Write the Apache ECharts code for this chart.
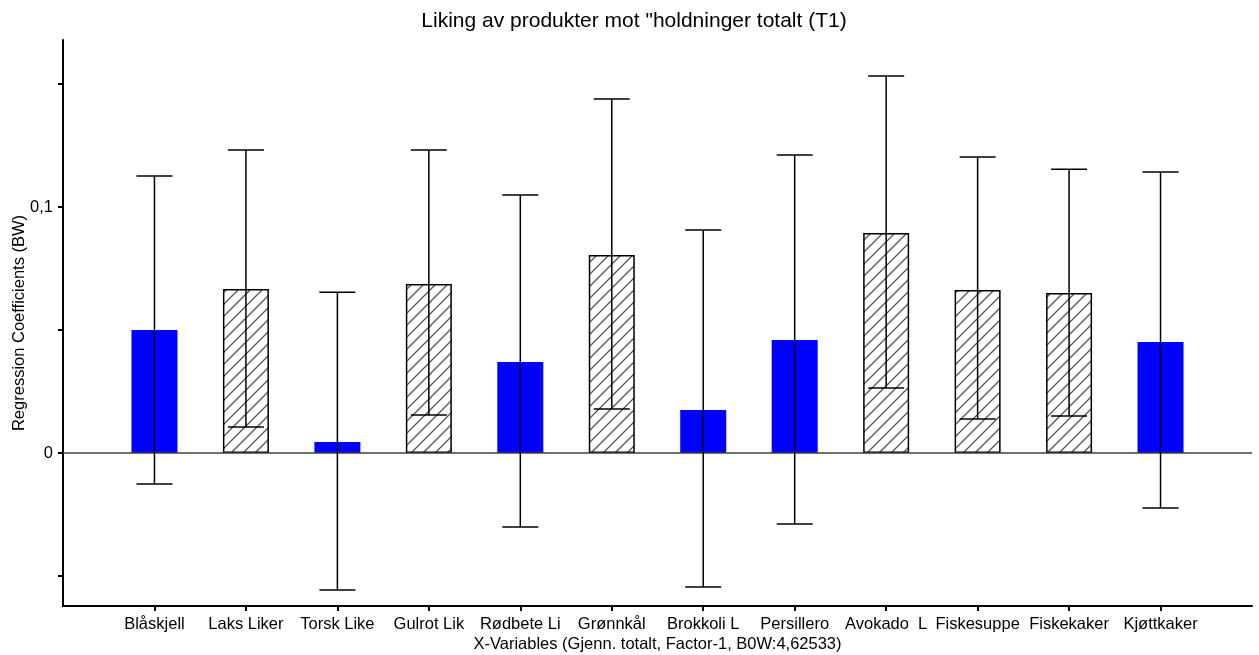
<!DOCTYPE html>
<html><head><meta charset="utf-8">
<script src="https://cdn.jsdelivr.net/npm/echarts@6/dist/echarts.min.js"></script>
<style>html,body{margin:0;padding:0;background:#fff}#c{width:1259px;height:655px}</style>
</head><body><div id="c"></div>
<script>
var categories = ['Blåskjell','Laks Liker','Torsk Like','Gulrot Lik','Rødbete Li','Grønnkål','Brokkoli L','Persillero','Avokado  L','Fiskesuppe','Fiskekaker','Kjøttkaker'];
var coef  = [0.050, 0.0667, 0.0045, 0.0687, 0.0370, 0.0805, 0.0175, 0.0459, 0.0894, 0.0663, 0.0650, 0.0451];
var upper = [0.1126, 0.1232, 0.0654, 0.1232, 0.1049, 0.1439, 0.0907, 0.1211, 0.1533, 0.1203, 0.1154, 0.1142];
var lower = [-0.0126, 0.0106, -0.0557, 0.0154, -0.0301, 0.0179, -0.0545, -0.0289, 0.0264, 0.0138, 0.0150, -0.0224];
var yTicks = [-0.05, 0, 0.05, 0.1, 0.15];
var yLabels = [0, 0.1];

var FONT = '"Liberation Sans", Arial, sans-serif';
// hatch pattern
var P = 12;
var pc = document.createElement('canvas');
pc.width = P; pc.height = P;
var g = pc.getContext('2d');
g.fillStyle = '#fff'; g.fillRect(0,0,P,P);
g.strokeStyle = '#555'; g.lineWidth = 1.3;
g.beginPath();
g.moveTo(-2,P+2); g.lineTo(P+2,-2);
g.moveTo(-2,2); g.lineTo(2,-2);
g.moveTo(P-2,P+2); g.lineTo(P+2,P-2);
g.stroke();

var xPos = categories.map(function(_, i){ return i + 1; });
var barData = categories.map(function(_, i){
  var sig = lower[i] > 0;
  return {
    value: [xPos[i], coef[i]],
    itemStyle: sig ? {color: {image: pc, repeat: 'repeat'}, borderColor: '#000', borderWidth: 1.5}
                   : {color: '#0000ff', borderWidth: 0}
  };
});
var errData = categories.map(function(_, i){ return [xPos[i], lower[i], upper[i]]; });

var chart = echarts.init(document.getElementById('c'));
chart.setOption({
  animation: false,
  title: {
    text: 'Liking av produkter mot "holdninger totalt (T1)',
    left: 629, top: 6, textAlign: 'center',
    textStyle: {fontFamily: FONT, fontSize: 21, fontWeight: 'normal', color: '#000'}
  },
  grid: {left: 63, right: 7, top: 40, bottom: 49, outerBoundsMode: 'none', containLabel: false},
  xAxis: {
    type: 'value', min: 0, max: 13,
    name: 'X-Variables (Gjenn. totalt, Factor-1, B0W:4,62533)',
    nameLocation: 'middle', nameGap: 30, nameMoveOverlap: false,
    nameTextStyle: {fontFamily: FONT, fontSize: 16.5, color: '#000', padding: [0,0,0,0]},
    axisLine: {onZero: false, lineStyle: {color: '#000', width: 2}},
    axisTick: {show: true, length: 5, inside: false, lineStyle: {color: '#000', width: 2}, customValues: xPos},
    axisLabel: {customValues: xPos, fontFamily: FONT, fontSize: 16.5, color: '#000', margin: 10,
      formatter: function(v){ var i = Math.round(v) - 1; return categories[i] || ''; }},
    splitLine: {show: false}
  },
  yAxis: {
    type: 'value', min: -0.0622, max: 0.1679,
    name: 'Regression Coefficients (BW)',
    nameLocation: 'middle', nameGap: 35, nameMoveOverlap: false,
    nameTextStyle: {fontFamily: FONT, fontSize: 16.5, color: '#000'},
    axisLine: {show: true, lineStyle: {color: '#000', width: 2}},
    axisTick: {show: true, length: 5, lineStyle: {color: '#000', width: 2}, customValues: yTicks},
    axisLabel: {customValues: yLabels, fontFamily: FONT, fontSize: 16.5, color: '#000', margin: 10,
      formatter: function(v){ return String(v).replace('.', ','); }},
    splitLine: {show: false}
  },
  series: [
    {
      type: 'bar', data: barData, barWidth: 46,
      markLine: {
        silent: true, symbol: 'none', label: {show: false},
        lineStyle: {color: '#404040', width: 1.5, type: 'solid'},
        data: [{yAxis: 0}]
      }
    },
    {
      type: 'custom', data: errData, z: 5,
      renderItem: function(params, api){
        var x = api.value(0);
        var lo = api.coord([x, api.value(1)]);
        var hi = api.coord([x, api.value(2)]);
        var cw = 18;
        var st = {stroke: '#000', lineWidth: 1.5};
        return {type: 'group', children: [
          {type: 'line', shape: {x1: lo[0], y1: lo[1], x2: hi[0], y2: hi[1]}, style: st},
          {type: 'line', shape: {x1: hi[0]-cw, y1: hi[1], x2: hi[0]+cw, y2: hi[1]}, style: st},
          {type: 'line', shape: {x1: lo[0]-cw, y1: lo[1], x2: lo[0]+cw, y2: lo[1]}, style: st}
        ]};
      }
    }
  ]
});
</script></body></html>
